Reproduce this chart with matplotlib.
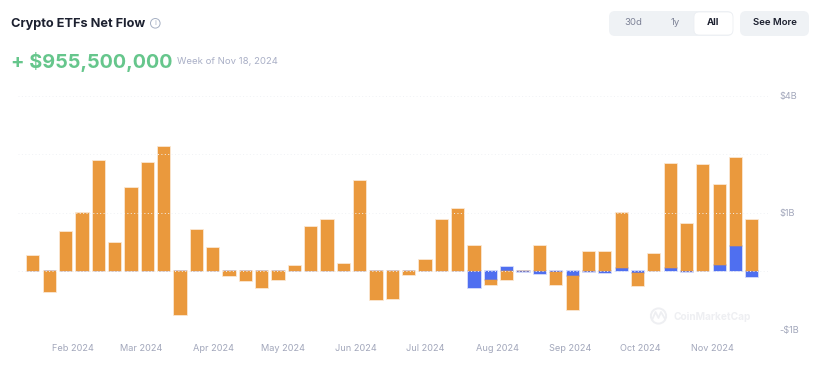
import numpy as np
import pandas as pd
import matplotlib
matplotlib.use("Agg")
import matplotlib.pyplot as plt
import matplotlib.dates as mdates
from matplotlib.patches import FancyBboxPatch, Circle
from matplotlib.ticker import FixedLocator, FixedFormatter

plt.rcParams['font.family'] = ['Inter', 'DejaVu Sans']

# Weekly data; heights are in grid steps of the chart (the axis labels are unevenly spaced)
weeks = pd.date_range("2024-01-15", "2024-11-18", freq="7D")
orange_vals = [0.257, -0.343, 0.68, 1.0, 1.89, 0.486, 1.43, 1.85, 2.13, -0.743, 0.71, 0.394,
               -0.074, -0.17, -0.28, -0.143, 0.09, 0.76, 0.886, 0.13, 1.54, -0.486, -0.474, -0.063,
               0.2, 0.886, 1.07, 0.43, -0.097, -0.143, 0.012, 0.43, -0.223, -0.577, 0.337, 0.326,
               0.93, -0.234, 0.297, 1.77, 0.817, 1.8, 1.366, 1.5, 0.886]
blue_vals = [0, 0, 0, 0, 0, 0, 0, 0, 0, 0, 0, 0,
             0, 0, 0, 0, 0, 0, 0, 0, 0, 0, 0, 0,
             0, 0, 0, -0.29, -0.143, 0.074, -0.017, -0.046, -0.017, -0.086, -0.017, -0.03,
             0.063, -0.023, 0, 0.063, -0.017, 0.011, 0.114, 0.43, -0.097]
tick_positions = [-1, 0, 1, 2, 3]
tick_labels = ["-$1B", "", "$1B", "", "$4B"]
month_ticks = pd.date_range("2024-02-01", "2024-11-01", freq="MS")

W, H = 819, 372
fig = plt.figure(figsize=(W / 100, H / 100), dpi=100, facecolor="white")

# chart axes
ax_left, ax_right, ax_top, ax_bottom = 18, 768, 95.7, 330.0
ax = fig.add_axes([ax_left / W, 1 - ax_bottom / H, (ax_right - ax_left) / W, (ax_bottom - ax_top) / H])
ax.patch.set_alpha(0)
orange = np.array(orange_vals)
blue = np.array(blue_vals)
bottom = np.where(np.sign(orange) == np.sign(blue), blue, 0.0)
x = mdates.date2num(weeks)
day_px = 16.34 / 7
ax.set_xlim(x[0] - (33.4 - ax_left) / day_px, x[0] + (ax_right - 33.4) / day_px)
ax.set_ylim(-1, 3)
bar_w = 12.2 / day_px
ax.bar(x, blue, width=bar_w, color="#4f6ff0", edgecolor="#4f6ff055", linewidth=1.2, zorder=2)
ax.bar(x, orange, bottom=bottom, width=bar_w, color="#ea993d", edgecolor="#ea993d55", linewidth=1.2, zorder=2)
ax.yaxis.tick_right()
ax.yaxis.set_major_locator(FixedLocator(tick_positions))
ax.yaxis.set_major_formatter(FixedFormatter(tick_labels))
ax.xaxis.set_major_locator(FixedLocator(mdates.date2num(month_ticks)))
ax.xaxis.set_major_formatter(mdates.DateFormatter("%b %Y"))
ax.tick_params(axis="both", length=0, labelsize=6.6, labelcolor="#a2a7bb")
ax.tick_params(axis="x", pad=10)
ax.tick_params(axis="y", pad=8)
ax.grid(axis="y", color="#f0f2f5", linestyle=(0, (1, 2.5)), linewidth=0.7, zorder=3)
ax.set_axisbelow(False)
for s in ax.spines.values():
    s.set_visible(False)

# page furniture in pixel coordinates
ov = fig.add_axes([0, 0, 1, 1], zorder=5)
ov.set_xlim(0, W)
ov.set_ylim(H, 0)
ov.axis("off")

ov.text(11, 23.5, "Crypto ETFs Net Flow", fontsize=9.2, fontweight="bold", color="#1d2130", va="center")
ov.add_patch(Circle((155.3, 23.3), 4.8, fill=False, ec="#a6b0c3", lw=0.7))
ov.text(155.3, 23.3, "i", fontsize=5.5, color="#a6b0c3", ha="center", va="center")
ov.text(11, 62, "+ $955,500,000", fontsize=14.3, fontweight="bold", color="#66c68c", va="center")
ov.text(177, 61.5, "Week of Nov 18, 2024", fontsize=6.9, color="#a9afc6", va="center")

def pill(x0, y0, x1, y1, fc, ec="none", r=6):
    ov.add_patch(FancyBboxPatch((x0 + r, y0 + r), x1 - x0 - 2 * r, y1 - y0 - 2 * r,
                                boxstyle=f"round,pad={r},rounding_size={r}", fc=fc, ec=ec, lw=0.6))

pill(609, 11, 733, 36, "#eff2f5")
pill(694, 12, 733, 35, "white", ec="#eceff3", r=5)
pill(740, 11, 809, 36, "#eff2f5")
ov.text(633, 22.7, "30d", fontsize=6.9, color="#7d8296", ha="center", va="center")
ov.text(675, 22.7, "1y", fontsize=6.9, color="#7d8296", ha="center", va="center")
ov.text(713, 22.7, "All", fontsize=6.9, fontweight="bold", color="#1d2130", ha="center", va="center")
ov.text(774.5, 22.7, "See More", fontsize=6.9, fontweight="semibold", color="#1d2130", ha="center", va="center")

# watermark
wm = "#eeeff2"
ov.add_patch(Circle((658.5, 316), 7.6, fill=False, ec=wm, lw=1.4))
ov.plot([652.5, 655.5, 658.5, 661, 664.5], [319, 312, 318, 312, 318], color=wm, lw=1.3)
ov.text(673, 317, "CoinMarketCap", fontsize=7.3, fontweight="bold", color=wm, va="center")

fig.savefig("out.png", dpi=100)
